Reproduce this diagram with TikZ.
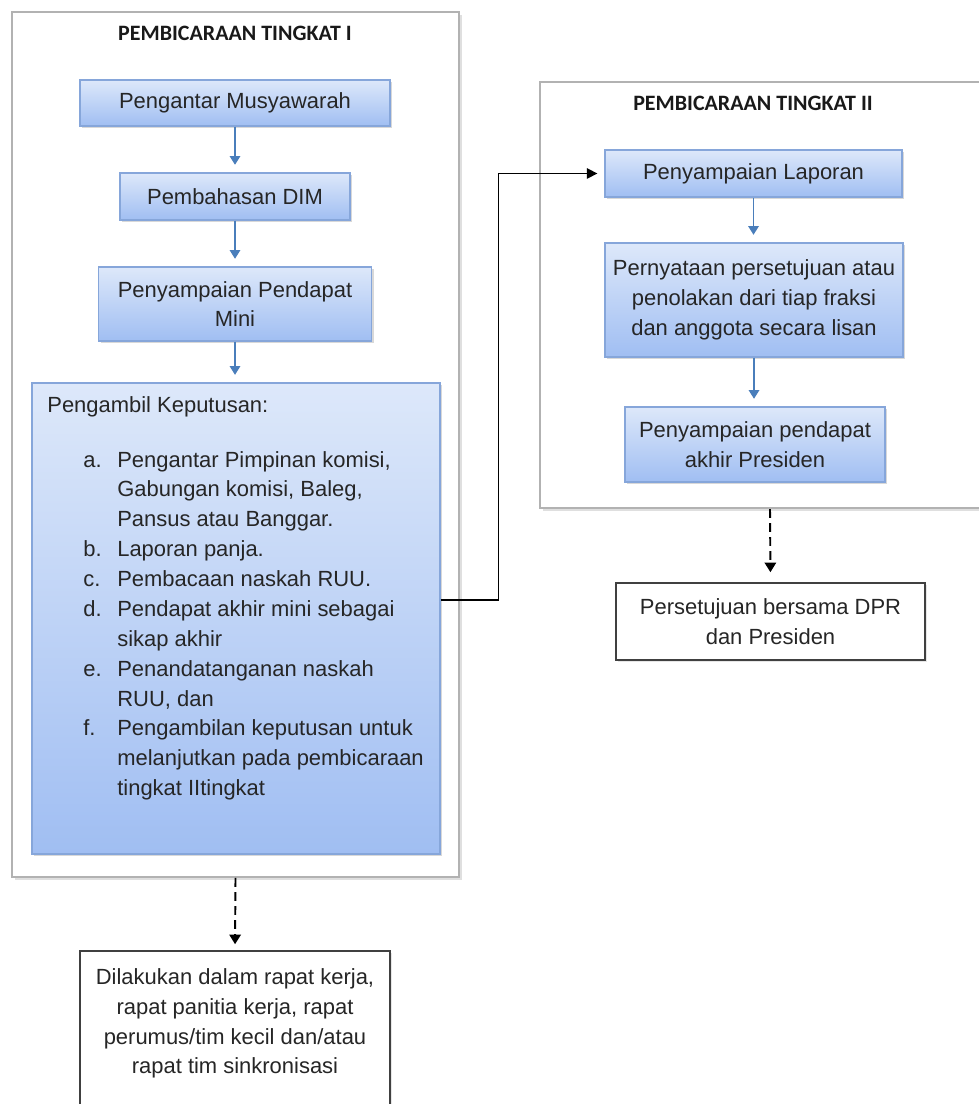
\documentclass[tikz,border=0pt]{standalone}
\usepackage{fontspec}
\setmainfont{Liberation Sans}
\newfontfamily\judulfont{Carlito}
\usetikzlibrary{arrows.meta,shadows}

\definecolor{birumuda}{HTML}{DDE8FA}
\definecolor{birutua}{HTML}{A0BEF2}
\definecolor{garisbiru}{HTML}{86A6DA}
\definecolor{birupanah}{HTML}{4A7EBB}
\newcommand{\teks}{\fontsize{12.5}{17}\selectfont}

\tikzset{
  panel/.style={draw=black!30, line width=1.2pt, fill=white, inner sep=0pt,
    drop shadow={shadow xshift=1.5pt, shadow yshift=-1.5pt, opacity=0.25}},
  judul/.style={font=\judulfont\fontsize{12.5}{15}\selectfont\bfseries, text=black!90},
  kotakbiru/.style={draw=garisbiru, thick, top color=birumuda, bottom color=birutua,
    inner sep=0pt, align=center, font=\teks, text=black!85,
    drop shadow={shadow xshift=1.2pt, shadow yshift=-1.2pt, opacity=0.3}},
  kotakputih/.style={draw=black!75, line width=0.9pt, fill=white, inner sep=0pt,
    align=center, font=\teks, text=black!85,
    drop shadow={shadow xshift=1.2pt, shadow yshift=-1.2pt, opacity=0.2}},
  alirbiru/.style={draw=birupanah, line width=0.9pt, -{Triangle[width=6pt,length=5pt]}, shorten >=0.15cm},
  putus/.style={black, line width=1.1pt, dash pattern=on 5pt off 3pt, -{Triangle[width=6.5pt,length=5.5pt]}},
  sambung/.style={black, line width=0.9pt, -{Triangle[width=6pt,length=6pt]}, shorten >=0.14cm}
}

\begin{document}
\begin{tikzpicture}[x=0.02cm, y=-0.02cm]
    \useasboundingbox (0,0) rectangle (979,1104);
    \clip (0,0) rectangle (979,1104);

    % panel tingkat I dan II
    \node[panel, minimum width=8.94cm, minimum height=17.3cm] (tingkatI) at (235.5,444.5) {};
    \node[panel, minimum width=9.2cm, minimum height=8.52cm] (tingkatII) at (770,295) {};
    \node[judul] (judulI) at (235,33) {PEMBICARAAN TINGKAT I};
    \node[judul] (judulII) at (753,103) {PEMBICARAAN TINGKAT II};

    % kotak tingkat I
    \node[kotakbiru, minimum width=6.2cm, minimum height=0.92cm] (musyawarah) at (235,103) {Pengantar Musyawarah};
    \node[kotakbiru, minimum width=4.6cm, minimum height=0.94cm] (dim) at (235,196.5) {Pembahasan DIM};
    \node[kotakbiru, minimum width=5.46cm, minimum height=1.48cm] (pendapat) at (235,304) {Penyampaian Pendapat\\ Mini};
    \node[kotakbiru, minimum width=8.16cm, minimum height=9.42cm] (keputusan) at (236,618.5) {};
    \node[font=\teks, text=black!85, anchor=north west, inner sep=0pt, align=left] (daftar) at (47,391) {%
        \begin{tabular}{@{}p{0.72cm}@{}p{0.68cm}@{}l@{}}
        \multicolumn{3}{@{}l@{}}{Pengambil Keputusan:}\\[0.5cm]
        & a. & Pengantar Pimpinan komisi,\\
        & & Gabungan komisi, Baleg,\\
        & & Pansus atau Banggar.\\
        & b. & Laporan panja.\\
        & c. & Pembacaan naskah RUU.\\
        & d. & Pendapat akhir mini sebagai\\
        & & sikap akhir\\
        & e. & Penandatanganan naskah\\
        & & RUU, dan\\
        & f. & Pengambilan keputusan untuk\\
        & & melanjutkan pada pembicaraan\\
        & & tingkat IItingkat
        \end{tabular}};

    % kotak tingkat II
    \node[kotakbiru, minimum width=5.94cm, minimum height=0.94cm] (laporan) at (753.5,173.5) {Penyampaian Laporan};
    \node[kotakbiru, minimum width=5.96cm, minimum height=2.28cm] (pernyataan) at (754,300) {Pernyataan persetujuan atau\\ penolakan dari tiap fraksi\\ dan anggota secara lisan};
    \node[kotakbiru, minimum width=5.2cm, minimum height=1.5cm] (presiden) at (755,444.5) {Penyampaian pendapat\\ akhir Presiden};

    % kotak keterangan
    \node[kotakputih, minimum width=6.18cm, minimum height=1.54cm] (setuju) at (770.5,621.5) {Persetujuan bersama DPR\\ dan Presiden};
    \node[kotakputih, minimum width=6.2cm, minimum height=3.2cm] (rapat) at (235,1031) {};
    \node[font=\teks, text=black!85, align=center, anchor=north, inner sep=0pt] (rapatteks) at (235,968) {Dilakukan dalam rapat kerja,\\ rapat panitia kerja, rapat\\ perumus/tim kecil dan/atau\\ rapat tim sinkronisasi};

    % panah
    \foreach \dari/\ke in {musyawarah/dim, dim/pendapat, pendapat/keputusan, laporan/pernyataan, pernyataan/presiden} {
        \draw[alirbiru] (\dari.south) -- (\dari.south |- \ke.north);
    }
    \draw[sambung] ([yshift=0.37cm]keputusan.east) -- ++(58,0) |- (laporan.west);
    \draw[putus, shorten >=0.12cm] (tingkatI.south) -- (rapat.north);
    \draw[putus, shorten >=0.2cm] (tingkatII.south) -- (setuju.north);
\end{tikzpicture}
\end{document}
